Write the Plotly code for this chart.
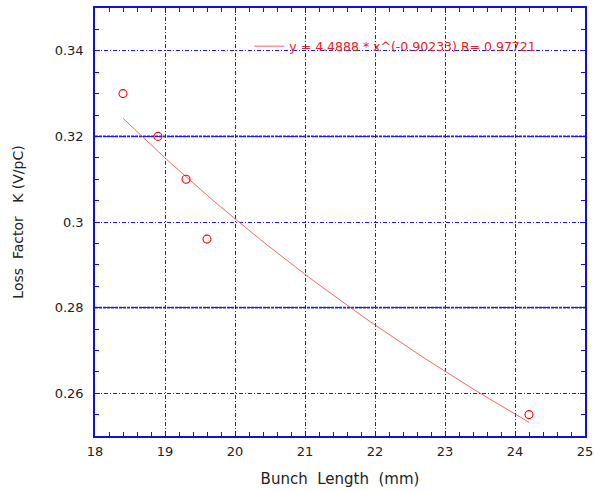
import numpy as np
import plotly.graph_objects as go

bunch_length = [18.4, 18.9, 19.3, 19.6, 24.2]
loss_factor = [0.330, 0.320, 0.310, 0.296, 0.255]
fit_a = 4.4888
fit_b = -0.90233
fit_r = 0.97721
x_ticks = [18, 19, 20, 21, 22, 23, 24, 25]
y_ticks = [0.26, 0.28, 0.3, 0.32, 0.34]
y_tick_labels = ["0.26", "0.28", "0.3", "0.32", "0.34"]
heavy_grid = [0.32, 0.28]

fx = np.linspace(min(bunch_length), max(bunch_length), 60)
fy = fit_a * fx ** fit_b

FONT = "DejaVu Sans, Liberation Sans, Arial"
BLUE = "#1010e0"
GRID = "#1a1aff"

fig = go.Figure()
for yv in heavy_grid:
    fig.add_shape(type="line", xref="paper", x0=0, x1=1, yref="y", y0=yv, y1=yv,
                  line=dict(color=GRID, width=1.8, dash="3px,1px"), layer="below")

fig.add_trace(go.Scatter(
    x=fx, y=fy, mode="lines",
    line=dict(color="#ff5050", width=0.9),
    name=f"y = {fit_a} * x^({fit_b}) R= {fit_r}",
    showlegend=True,
))
fig.add_trace(go.Scatter(
    x=bunch_length, y=loss_factor, mode="markers",
    marker=dict(symbol="circle-open", size=8, color="red", line=dict(width=1.1, color="red")),
    showlegend=False,
))

axis_common = dict(
    showline=True, linecolor=BLUE, linewidth=1.6, mirror="allticks",
    ticks="inside", tickcolor=BLUE, ticklen=5, tickwidth=1,
    showgrid=True, gridcolor=GRID, gridwidth=1, griddash="4px,2px,1px,2px",
    zeroline=False, automargin=False, ticklabeloverflow="allow",
    tickfont=dict(family=FONT, size=13, color="#222222"),
)

fig.update_xaxes(
    range=[18, 25], tickvals=x_ticks, ticklabelstandoff=3,
    minor=dict(dtick=0.2, ticks="inside", ticklen=4, tickcolor=BLUE, showgrid=False),
    title=dict(text="Bunch  Length  (mm)", font=dict(family=FONT, size=15, color="#222222"), standoff=15),
    **axis_common,
)
fig.update_yaxes(
    range=[0.25, 0.35], tickvals=y_ticks, ticktext=y_tick_labels, ticklabelstandoff=7,
    minor=dict(dtick=0.005, ticks="inside", ticklen=4, tickcolor=BLUE, showgrid=False),
    title=dict(text="Loss  Factor   K (V/pC)", font=dict(family=FONT, size=14, color="#222222"), standoff=28),
    **axis_common,
)

fig.update_layout(
    width=595, height=491,
    margin=dict(l=95, r=10, t=8, b=55),
    paper_bgcolor="white", plot_bgcolor="white",
    legend=dict(x=0.315, y=0.91, xanchor="left", yanchor="middle",
                bgcolor="rgba(0,0,0,0)", font=dict(family=FONT, size=12.5, color="#e52020")),
    font=dict(family=FONT),
)

fig.write_html(
    "out.html",
    config={"displayModeBar": False},
    post_script="document.body.style.margin='0';document.body.style.overflow='hidden';",
)
